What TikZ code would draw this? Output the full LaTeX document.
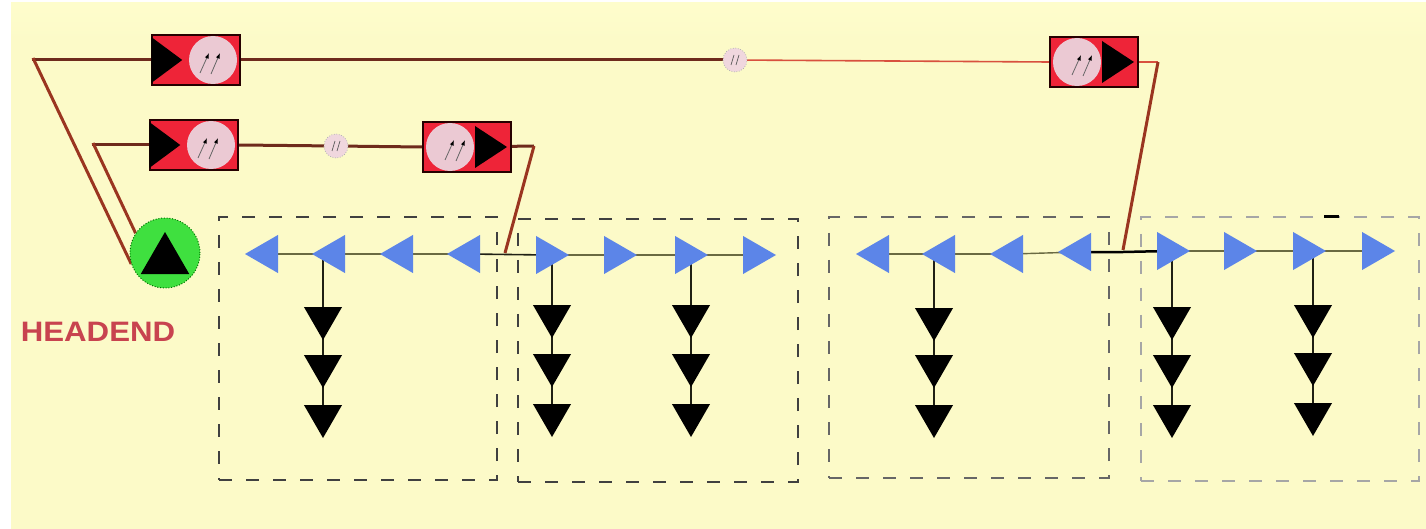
\documentclass[tikz,border=0pt]{standalone}
\usepackage{fontspec}
\setmainfont{Liberation Sans}
\usetikzlibrary{shapes.geometric,backgrounds,arrows.meta}
\definecolor{paper}{HTML}{FCFAC8}
\definecolor{paperhi}{HTML}{FEFDCC}
\definecolor{trunk}{HTML}{6E2A1C}
\definecolor{riser}{HTML}{9A3520}
\definecolor{thinred}{HTML}{D8503E}
\definecolor{ampred}{HTML}{EE2438}
\definecolor{disc}{HTML}{EBC9D3}
\definecolor{azul}{HTML}{5C85E8}
\definecolor{branch}{HTML}{6A6A42}
\definecolor{heady}{HTML}{C8434F}
\definecolor{headgreen}{HTML}{3FE03F}
\tikzset{
  x=0.2mm,y=-0.2mm,
  tri/.style={regular polygon,regular polygon sides=3,inner sep=0pt,outer sep=0pt,minimum size=8.8mm},
  bleft/.style={tri,fill=azul,shape border rotate=90},
  bright/.style={tri,fill=azul,shape border rotate=270},
  bdown/.style={tri,fill=black,shape border rotate=180},
  ampbody/.style={draw=black!85!red,line width=0.4mm,fill=ampred,inner sep=0pt,minimum width=17.5mm,minimum height=10mm},
  ampdisc/.style={circle,fill=disc,inner sep=0pt,minimum size=9.6mm},
  splice/.style={circle,fill=disc!75!white,draw=gray!60,densely dotted,line width=0.15mm,inner sep=0pt,minimum size=4.8mm},
  zone/.style={dash pattern=on 2.6mm off 2.8mm,line width=0.34mm},
  trunkline/.style={draw=trunk,line width=0.6mm},
  riserline/.style={draw=riser,line width=0.6mm},
  thinline/.style={draw=thinred,line width=0.32mm},
  branchline/.style={draw=branch,line width=0.28mm},
  stemline/.style={draw=black!70!branch,line width=0.32mm},
  tie/.style={draw=black,line width=0.5mm},
  dart/.style={draw=gray!80!black,line width=0.16mm,-{Latex[black,length=1.1mm,width=0.8mm]}},
}
% #1 name, #2 x, #3 y: triangle at the left, disc at the right
\newcommand{\ampleft}[3]{%
  \node[ampbody] (#1) at (#2,#3) {};
  \node[ampdisc] (#1d) at (#2+17,#3) {};
  \fill[black] (#1.west)++(0,-23) -- ++(31,23) -- ++(-31,23) -- cycle;
  \draw[dart] (#2+4,#3+13) -- (#2+13,#3-7);
  \draw[dart] (#2+15,#3+14) -- (#2+24,#3-7);
}
% #1 name, #2 x, #3 y: disc at the left, triangle at the right
\newcommand{\ampright}[3]{%
  \node[ampbody] (#1) at (#2,#3) {};
  \node[ampdisc] (#1d) at (#2-17,#3) {};
  \fill[black] (#2+8,#3-21) -- ++(32,21) -- ++(-32,21) -- cycle;
  \draw[dart] (#2-22,#3+13) -- (#2-13,#3-7);
  \draw[dart] (#2-11,#3+14) -- (#2-2,#3-7);
}
\newcommand{\spliceat}[3]{%
  \node[splice] (#1) at (#2,#3) {};
  \draw[gray!70!black,line width=0.14mm] (#2-4,#3+5) -- (#2-1,#3-5) (#2+1,#3+5) -- (#2+4,#3-5);
}
\begin{document}
\begin{tikzpicture}
\useasboundingbox (0,0) rectangle (1426,529);

% amplifiers and splices
\ampleft{a1}{196}{60}
\ampleft{a2}{194}{145}
\ampright{a3}{467}{147}
\ampright{a4}{1094}{62}
\spliceat{s1}{735}{60}
\spliceat{s2}{336}{146}

% head end
\node[circle,fill=headgreen,draw=green!45!black,densely dotted,line width=0.2mm,inner sep=0pt,minimum size=14mm] (head) at (165,253) {};
\node[tri,fill=black,minimum size=11.2mm] (headtri) at (165,260) {};
\node[text=heady,font=\fontsize{16}{16}\selectfont\bfseries,inner sep=0pt] (headlabel) at (98,332) {\scalebox{1.11}[1]{HEADEND}};

% zones
\node[draw=black!75,zone,inner sep=0pt,minimum width=55.6mm,minimum height=52.6mm] (z1) at (358,348.5) {};
\node[draw=black!75,zone,inner sep=0pt,minimum width=56mm,minimum height=52.6mm] (z2) at (658,350.5) {};
\node[draw=black!60,zone,inner sep=0pt,minimum width=56mm,minimum height=52.2mm] (z3) at (969,347.5) {};
\node[draw=black!35,zone,inner sep=0pt,minimum width=55.6mm,minimum height=52.8mm] (z4) at (1280,349) {};
\draw[black,line width=0.6mm] (1324,216.5) -- (1339,216.5);

% blue rows
\node[bleft] (b11) at (267,254) {};
\node[bleft] (b12) at (334,254) {};
\node[bleft] (b13) at (402,254) {};
\node[bleft] (b14) at (469,254) {};
\node[bright] (b21) at (547,255) {};
\node[bright] (b22) at (615,255) {};
\node[bright] (b23) at (686,255) {};
\node[bright] (b24) at (754,255) {};
\node[bleft] (b31) at (878,254) {};
\node[bleft] (b32) at (944,254) {};
\node[bleft] (b33) at (1012,254) {};
\node[bleft] (b34) at (1080,252) {};
\node[bright] (b41) at (1168,251) {};
\node[bright] (b42) at (1235,251) {};
\node[bright] (b43) at (1304,251) {};
\node[bright] (b44) at (1373,251) {};

% black columns
\node[bdown] (d11) at (323,318) {};
\node[bdown] (d12) at (323,366) {};
\node[bdown] (d13) at (323,416) {};
\node[bdown] (d21) at (552,316) {};
\node[bdown] (d22) at (552,365) {};
\node[bdown] (d23) at (552,415) {};
\node[bdown] (d31) at (691,316) {};
\node[bdown] (d32) at (691,365) {};
\node[bdown] (d33) at (691,415) {};
\node[bdown] (d41) at (934,319) {};
\node[bdown] (d42) at (934,366) {};
\node[bdown] (d43) at (934,416) {};
\node[bdown] (d51) at (1172,318) {};
\node[bdown] (d52) at (1172,366) {};
\node[bdown] (d53) at (1172,416) {};
\node[bdown] (d61) at (1313,316) {};
\node[bdown] (d62) at (1313,364) {};
\node[bdown] (d63) at (1313,414) {};

% free ends
\coordinate (tl1) at (33,58);
\coordinate (tl2) at (93,143);
\coordinate (cr3) at (534,146);
\coordinate (cr4) at (1158,62);
\coordinate (j3) at (505,253);
\coordinate (j4) at (1123,250);

\begin{pgfonlayer}{background}
  \fill[white] (0,0) rectangle (1426,529);
  \fill[paper] (11,3) rectangle (1426,529);
  \shade[top color=paperhi,bottom color=paper] (11,3) rectangle (1426,40);

  % feeds from the head end
  \draw[trunkline] (a1.west) -- (tl1 |- a1.west) -- (tl1);
  \draw[riserline] (tl1) -- (head.198);
  \draw[trunkline] (a2.west) -- (tl2 |- a2.west) -- (tl2);
  \draw[riserline] (tl2) -- (head.146);
  \draw[trunkline] (a1.east) -- (s1.center);
  \draw[thinline] (s1.center) -- (a4.west);
  \draw[trunkline] (a2.east) -- (s2.center);
  \draw[trunkline] (s2.center) -- (a3.west);
  \draw[trunkline] (a3.center) -- (cr3);
  \draw[riserline] (cr3) -- (j3);
  \draw[thinline] (a4.center) -- (cr4);
  \draw[riserline] (cr4) -- (j4);

  % rows
  \draw[branchline] (b11.center) -- (b12.center);
  \draw[branchline] (b12.center) -- (b13.center);
  \draw[branchline] (b13.center) -- (b14.center);
  \draw[stemline] (b14.center) -- (b21.center);
  \draw[branchline] (b21.center) -- (b22.center);
  \draw[branchline] (b22.center) -- (b23.center);
  \draw[branchline] (b23.center) -- (b24.center);
  \draw[branchline] (b31.center) -- (b32.center);
  \draw[branchline] (b32.center) -- (b33.center);
  \draw[branchline] (b33.center) -- (b34.center);
  \draw[tie] (b34.center) -- (b34.center -| j4) -- (b41.center);
  \draw[branchline] (b41.center) -- (b42.center);
  \draw[branchline] (b42.center) -- (b43.center);
  \draw[branchline] (b43.center) -- (b44.center);

  % columns
  \draw[stemline] (d11.center |- b12.center) -- (d11.center);
  \draw[stemline] (d11.center) -- (d12.center);
  \draw[stemline] (d12.center) -- (d13.center);
  \draw[stemline] (d21.center |- b21.center) -- (d21.center);
  \draw[stemline] (d21.center) -- (d22.center);
  \draw[stemline] (d22.center) -- (d23.center);
  \draw[stemline] (d31.center |- b23.center) -- (d31.center);
  \draw[stemline] (d31.center) -- (d32.center);
  \draw[stemline] (d32.center) -- (d33.center);
  \draw[stemline] (d41.center |- b32.center) -- (d41.center);
  \draw[stemline] (d41.center) -- (d42.center);
  \draw[stemline] (d42.center) -- (d43.center);
  \draw[stemline] (d51.center |- b41.center) -- (d51.center);
  \draw[stemline] (d51.center) -- (d52.center);
  \draw[stemline] (d52.center) -- (d53.center);
  \draw[stemline] (d61.center |- b43.center) -- (d61.center);
  \draw[stemline] (d61.center) -- (d62.center);
  \draw[stemline] (d62.center) -- (d63.center);
\end{pgfonlayer}
\end{tikzpicture}
\end{document}
